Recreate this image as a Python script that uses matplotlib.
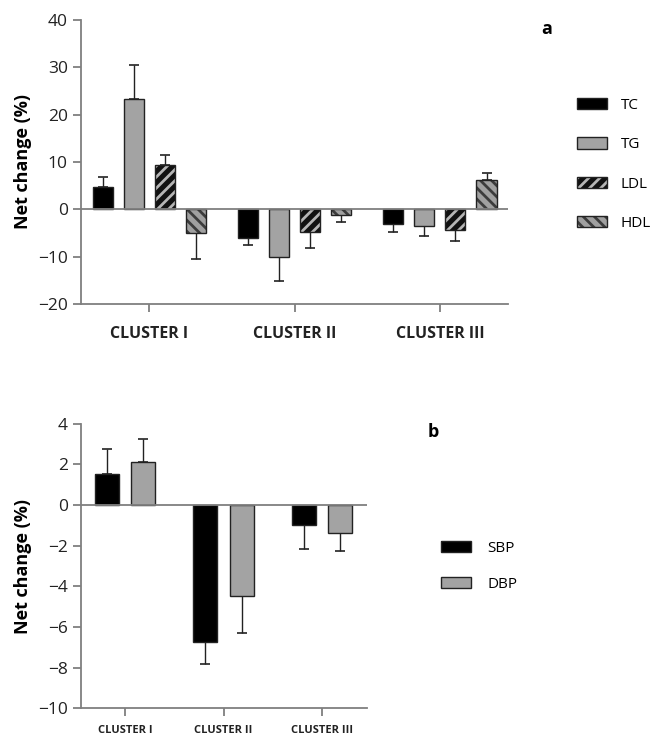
import numpy as np
import matplotlib
matplotlib.use("Agg")
import matplotlib.pyplot as plt

plt.rcParams["font.family"] = ["Open Sans", "DejaVu Sans"]
plt.rcParams["hatch.linewidth"] = 2.0

# panel a: lipids
clusters = ["CLUSTER I", "CLUSTER II", "CLUSTER III"]
lipid_names = ["TC", "TG", "LDL", "HDL"]
lipid_vals = {
    "TC":  [4.8, -6.0, -3.2],
    "TG":  [23.2, -10.0, -3.5],
    "LDL": [9.3, -4.8, -4.4],
    "HDL": [-5.0, -1.1, 6.1],
}
lipid_err = {
    "TC":  [2.0, 1.5, 1.5],
    "TG":  [7.2, 5.2, 2.1],
    "LDL": [2.2, 3.3, 2.3],
    "HDL": [5.4, 1.5, 1.5],
}

# panel b: blood pressure
bp_names = ["SBP", "DBP"]
bp_vals = {
    "SBP": [1.5, -6.75, -0.96],
    "DBP": [2.13, -4.47, -1.37],
}
bp_err = {
    "SBP": [1.25, 1.07, 1.18],
    "DBP": [1.1, 1.8, 0.9],
}

# face colour, hatch pattern, hatch colour
STYLE = {
    "TC":  ("#000000", None, None),
    "TG":  ("#a3a3a3", None, None),
    "LDL": ("#111111", "///", "#b5b5b5"),
    "HDL": ("#a0a0a0", "\\\\\\", "#3c3c3c"),
    "SBP": ("#000000", None, None),
    "DBP": ("#a3a3a3", None, None),
}
AXC = "#7f7f7f"


def draw_bars(ax, x, vals, errs, name, width):
    face, hatch, hcol = STYLE[name]
    vals = np.asarray(vals)
    errs = np.asarray(errs)
    ax.bar(x, vals, width, color=face, edgecolor=hcol if hatch else face,
           hatch=hatch, linewidth=0, zorder=2)
    ax.bar(x, vals, width, fill=False, edgecolor="#222222",
           linewidth=1.0, zorder=3)
    # one-sided error bars, pointing away from zero
    lower = np.where(vals < 0, errs, 0)
    upper = np.where(vals >= 0, errs, 0)
    ax.errorbar(x, vals, yerr=[lower, upper], fmt="none", ecolor="#222222",
                elinewidth=1.0, capsize=3.5, capthick=1.2, zorder=1)
    h1 = plt.Rectangle((0, 0), 1, 1, facecolor=face,
                       edgecolor=hcol if hatch else face, hatch=hatch, linewidth=0)
    h2 = plt.Rectangle((0, 0), 1, 1, fill=False, edgecolor="#222222", linewidth=1.0)
    return (h1, h2)


def style_axis(ax, ylim, yticks, xfont):
    ax.set_ylim(*ylim)
    ax.set_yticks(yticks)
    ax.set_xticks(range(len(clusters)))
    ax.set_xticklabels(clusters, fontsize=xfont, fontweight="bold")
    for s in ["top", "right"]:
        ax.spines[s].set_visible(False)
    for s in ["left", "bottom"]:
        ax.spines[s].set_color(AXC)
        ax.spines[s].set_linewidth(1.3)
    ax.tick_params(axis="both", colors=AXC, width=1.3, length=6, labelcolor="#222222")
    ax.tick_params(axis="y", labelsize=12.5)
    ax.tick_params(axis="x", pad=10)
    ax.axhline(0, color=AXC, lw=1.3, zorder=4)
    ax.set_ylabel("Net change (%)", fontsize=13, fontweight="bold", labelpad=4)


fig = plt.figure(figsize=(6.54, 7.38), dpi=100)
leg_kw = dict(frameon=False, fontsize=11, handlelength=1.96, handleheight=0.75)

# ---- panel a
ax1 = fig.add_axes([0.124, 0.588, 0.653, 0.385])
xs = np.arange(len(clusters))
pitch = 0.214
handles = []
for i, name in enumerate(lipid_names):
    off = (i - 1.5) * pitch
    handles.append(draw_bars(ax1, xs + off, lipid_vals[name], lipid_err[name], name, 0.138))
ax1.set_xlim(-0.47, 2.47)
style_axis(ax1, (-20, 40), range(-20, 41, 10), 11.5)
fig.legend(handles, lipid_names, loc="upper left", bbox_to_anchor=(0.862, 0.886),
           labelspacing=1.6, handletextpad=0.85, **leg_kw)
fig.text(0.836, 0.961, "a", fontsize=13, fontweight="bold", ha="center", va="center")

# ---- panel b
ax2 = fig.add_axes([0.124, 0.040, 0.437, 0.386])
pitch_b = 0.37
handles_b = []
for i, name in enumerate(bp_names):
    off = (i - 0.5) * pitch_b
    handles_b.append(draw_bars(ax2, xs + off, bp_vals[name], bp_err[name], name, 0.244))
ax2.set_xlim(-0.447, 2.457)
style_axis(ax2, (-10, 4), range(-10, 5, 2), 8)
ax2.tick_params(axis="x", pad=6)
fig.legend(handles_b, bp_names, loc="upper left", bbox_to_anchor=(0.653, 0.286),
           labelspacing=1.38, handletextpad=1.1, **leg_kw)
fig.text(0.663, 0.415, "b", fontsize=13, fontweight="bold", ha="center", va="center")

fig.savefig("out.png", dpi=100, facecolor="white")
